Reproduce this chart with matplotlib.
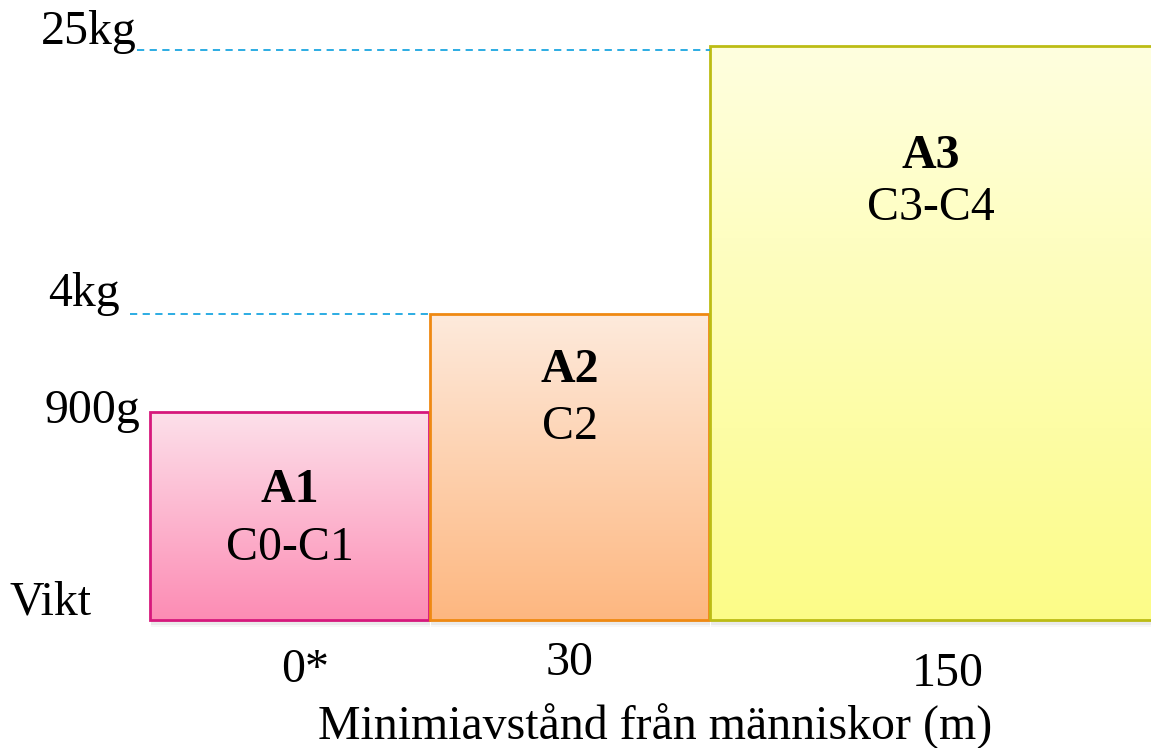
import numpy as np
import matplotlib.pyplot as plt
from matplotlib.colors import LinearSegmentedColormap
from matplotlib.patches import Rectangle

# classes of drone weight
classes = ["A1", "A2", "A3"]
subclasses = ["C0-C1", "C2", "C3-C4"]
weight_labels = ["900g", "4kg", "25kg"]
distance_labels = ["0*", "30", "150"]
box_heights = [0.362, 0.533, 1.0]  # relative to the 25kg box
box_widths = [1.0, 1.0, 2.0]

top_colors = ["#fde0ea", "#feeadc", "#ffffdf"]
bottom_colors = ["#fc8cb4", "#fdb780", "#fcfc88"]
edge_colors = ["#d6187c", "#ef8912", "#bcbc14"]
guide_color = "#1ba6e0"

plt.rcParams["font.family"] = ["Liberation Serif", "DejaVu Serif"]
FS = 34.5

fig = plt.figure(figsize=(11.51, 7.48), dpi=100)
ax = fig.add_axes([150 / 1151, 128 / 748, 1 - 150 / 1151, 620 / 748])
XMAX = 1001 / 279
ax.set_xlim(0, XMAX)
ax.set_ylim(0, 620 / 574)
ax.axis("off")

lefts = np.concatenate([[0], np.cumsum(box_widths)[:-1]])
lefts = lefts + np.array([0, 0.004, 0.008])

# baselines of the box texts
title_y = [0.206, 0.415, 0.788]
sub_y = [0.105, 0.315, 0.697]
for i, (x0, w, h) in enumerate(zip(lefts, box_widths, box_heights)):
    # soft shadow
    for k, a in enumerate([0.07, 0.05, 0.03]):
        ax.add_patch(Rectangle((x0 + 0.004, -0.004 * (k + 1)), w, h, fc="#000000",
                               alpha=a, ec="none", zorder=1, clip_on=False))
    cmap = LinearSegmentedColormap.from_list("g", [bottom_colors[i], top_colors[i]])
    grad = np.linspace(0, 1, 256).reshape(-1, 1)
    im = ax.imshow(grad, extent=(x0, x0 + w, 0, h), origin="lower", cmap=cmap,
                   aspect="auto", zorder=2)
    rect = Rectangle((x0, 0), w, h, fc="none", ec=edge_colors[i], lw=2, zorder=3,
                     clip_on=False)
    ax.add_patch(rect)
    im.set_clip_path(rect)
    cx = (x0 + min(x0 + w, XMAX)) / 2
    ax.text(cx, title_y[i], classes[i], ha="center", va="baseline", fontsize=FS,
            fontweight="bold", zorder=4)
    ax.text(cx, sub_y[i], subclasses[i], ha="center", va="baseline",
            fontsize=FS, zorder=4)

# dashed guides to the taller boxes
ax.hlines(box_heights[2] - 0.007, -0.047, lefts[2], colors=guide_color,
          linestyles=(0, (4, 3)), lw=1.3, zorder=5, clip_on=False)
ax.hlines(box_heights[1], -0.072, lefts[1], colors=guide_color,
          linestyles=(0, (4, 3)), lw=1.3, zorder=5, clip_on=False)

# weight labels on the left
weight_pos = [(-0.036, 0.343), (-0.108, 0.547), (-0.047, 1.0035)]
for lab, (x, y) in zip(weight_labels, weight_pos):
    ax.text(x, y, lab, ha="right", va="baseline", fontsize=FS)
ax.text(-0.208, 0.009, "Vikt", ha="right", va="baseline", fontsize=FS)

# distance labels below
dist_pos = [(0.556, -0.108), (1.505, -0.096), (2.86, -0.115)]
for lab, (x, y) in zip(distance_labels, dist_pos):
    ax.text(x, y, lab, ha="center", va="baseline", fontsize=FS)
ax.text(1.81, -0.208, "Minimiavstånd från människor (m)", ha="center",
        va="baseline", fontsize=FS)

fig.savefig("out.png", dpi=100)
